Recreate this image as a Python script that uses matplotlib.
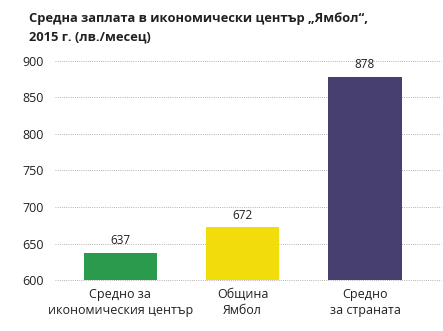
import matplotlib.pyplot as plt
import numpy as np

plt.rcParams['font.family'] = ['Open Sans', 'DejaVu Sans']

# data
categories = ['Средно за\nикономическия център', 'Община\nЯмбол', 'Средно\nза страната']
values = [637, 672, 878]
colors = ['#2a9a4c', '#f2dc0c', '#473f70']
yticks = [600, 650, 700, 750, 800, 850, 900]

fig = plt.figure(figsize=(4.43, 3.31), dpi=100)
ax = fig.add_axes([0.124, 0.154, 0.871, 0.662])

x = np.arange(len(categories))
bars = ax.bar(x, values, 0.6, color=colors, zorder=3)
ax.bar_label(bars, padding=4, fontsize=8.5, color='#231f20')

ax.set_ylim(600, 900)
ax.set_xlim(-0.535, 2.62)
ax.set_yticks(yticks)
ax.set_xticks(x)
ax.set_xticklabels(categories, fontsize=9, color='#231f20', linespacing=1.25)
ax.tick_params(axis='y', labelsize=9, colors='#231f20', length=0, pad=8)
ax.tick_params(axis='x', length=0, pad=6)
ax.yaxis.grid(True, linestyle=(0, (1, 1.6)), color='#999999', linewidth=0.6, zorder=0)
for s in ax.spines.values():
    s.set_visible(False)
for gl in ax.get_ygridlines():
    gl.set_clip_on(False)

fig.text(0.066, 0.965, 'Средна заплата в икономически център „Ямбол“,\n2015 г. (лв./месец)',
         fontsize=9.3, fontweight='bold', color='#231f20', va='top', ha='left', linespacing=1.55)

fig.savefig('out.png', dpi=100)
